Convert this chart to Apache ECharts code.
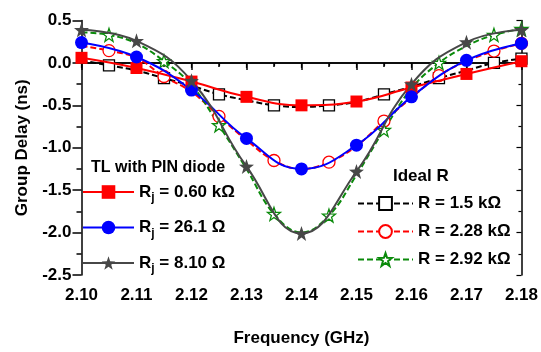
<!DOCTYPE html>
<html><head><meta charset="utf-8">
<script src="https://cdn.jsdelivr.net/npm/echarts@6/dist/echarts.min.js"></script>
<style>html,body{margin:0;padding:0;background:#fff}#c{width:541px;height:352px}</style>
</head><body><div id="c"></div>
<script>
// ---- data ----
const freqPin = [2.10, 2.11, 2.12, 2.13, 2.14, 2.15, 2.16, 2.17, 2.18];
const rj060k = [0.06, -0.06, -0.22, -0.40, -0.50, -0.455, -0.29, -0.13, 0.02];
const rj261 = [0.24, 0.07, -0.32, -0.89, -1.25, -0.97, -0.40, 0.03, 0.23];
const rj810 = [0.39, 0.26, -0.21, -1.22, -2.01, -1.28, -0.25, 0.245, 0.39];

const freqIdeal = [2.10, 2.105, 2.11, 2.115, 2.12, 2.125, 2.13, 2.135, 2.14, 2.145, 2.15, 2.155, 2.16, 2.165, 2.17, 2.175, 2.18];
const idealMarked = [0, 1, 0, 1, 0, 1, 0, 1, 0, 1, 0, 1, 0, 1, 0, 1, 1];
const r15k = [0.03, -0.03, -0.09, -0.18, -0.27, -0.37, -0.44, -0.50, -0.52, -0.50, -0.46, -0.37, -0.28, -0.18, -0.09, 0.00, 0.05];
const r228k = [0.20, 0.145, 0.06, -0.16, -0.34, -0.63, -0.91, -1.15, -1.25, -1.17, -0.98, -0.685, -0.41, -0.15, 0.02, 0.14, 0.23];
const r292k = [0.36, 0.33, 0.23, 0.02, -0.26, -0.735, -1.25, -1.78, -2.00, -1.80, -1.32, -0.79, -0.30, 0.00, 0.20, 0.33, 0.40];

const xTicks = {min: 2.10, max: 2.18, step: 0.01};
const yTicks = {min: -2.5, max: 0.5, step: 0.5};

const pinNames = ['{r|R}{s|j}{r| = 0.60 kΩ}', '{r|R}{s|j}{r| = 26.1 Ω}', '{r|R}{s|j}{r| = 8.10 Ω}'];
const idealNames = ['R = 1.5 kΩ', 'R = 2.28 kΩ', 'R = 2.92 kΩ'];

// ---- chart ----
const STAR = 'path://M0,-10 L2.35,-3.24 L9.51,-3.09 L3.8,1.24 L5.88,8.09 L0,4 L-5.88,8.09 L-3.8,1.24 L-9.51,-3.09 L-2.35,-3.24 Z';
const FONT = 'Liberation Sans, Arial, sans-serif';

function pairs(xs, ys) { return xs.map((x, i) => [x, ys[i]]); }
function idealPairs(xs, ys) {
  return xs.map((x, i) => idealMarked[i] ? [x, ys[i]] : {value: [x, ys[i]], symbol: 'none'});
}

const pinStyles = [
  {color: '#ff0000', symbol: 'rect', size: 12},
  {color: '#0000ff', symbol: 'circle', size: 13},
  {color: '#474747', symbol: STAR, size: 15}
];
const idealStyles = [
  {color: '#000000', symbol: 'rect', size: 11},
  {color: '#ff0000', symbol: 'circle', size: 12},
  {color: '#0a8a0a', symbol: STAR, size: 13}
];
const pinData = [rj060k, rj261, rj810];
const idealData = [r15k, r228k, r292k];

const series = [];
idealData.forEach((d, i) => {
  const st = idealStyles[i];
  series.push({
    name: idealNames[i], type: 'line', smooth: 0.4, data: idealPairs(freqIdeal, d),
    symbol: st.symbol, symbolSize: st.size, showAllSymbol: true,
    lineStyle: {color: st.color, width: 2, type: [6, 3]},
    itemStyle: {color: '#ffffff', borderColor: st.color, borderWidth: 1.3},
    z: 2
  });
});
pinData.forEach((d, i) => {
  const st = pinStyles[i];
  series.push({
    name: pinNames[i], type: 'line', smooth: 0.45, data: pairs(freqPin, d),
    symbol: st.symbol, symbolSize: st.size, showAllSymbol: true,
    lineStyle: {color: st.color, width: 2},
    itemStyle: {color: st.color, borderColor: st.color, borderWidth: 0},
    z: 3
  });
});

const axisLine = {show: true, lineStyle: {color: '#000', width: 1.5}};
const chart = echarts.init(document.getElementById('c'), null, {renderer: 'canvas'});
chart.setOption({
  animation: false,
  backgroundColor: '#fff',
  grid: {left: 81.5, right: 18.7, top: 20.5, bottom: 73.7, containLabel: false},
  title: [
    {text: 'TL with PIN diode', left: 86, top: 155, textStyle: {fontFamily: FONT, fontSize: 16, fontWeight: 'bold', color: '#000'}},
    {text: 'Ideal R', left: 388, top: 163, textStyle: {fontFamily: FONT, fontSize: 17, fontWeight: 'bold', color: '#000'}}
  ],
  legend: [
    {
      data: pinNames, orient: 'vertical', left: 82, top: 183.5, padding: 0, itemWidth: 51, itemHeight: 17, itemGap: 15,
      selectedMode: false,
      textStyle: {fontFamily: FONT, color: '#000', rich: {
        r: {fontSize: 17, fontWeight: 'bold', fontFamily: FONT},
        s: {fontSize: 12, fontWeight: 'bold', fontFamily: FONT, padding: [12, 0, 0, 0]}
      }}
    },
    {
      data: idealNames, orient: 'vertical', left: 357, top: 195, padding: 0, itemWidth: 55, itemHeight: 16, itemGap: 11,
      selectedMode: false,
      textStyle: {fontFamily: FONT, fontSize: 17, fontWeight: 'bold', color: '#000'}
    }
  ],
  xAxis: [
    {
      type: 'value', min: xTicks.min, max: xTicks.max, interval: xTicks.step,
      name: 'Frequency (GHz)', nameLocation: 'middle', nameGap: 55,
      nameTextStyle: {fontFamily: FONT, fontSize: 17, fontWeight: 'bold', color: '#000'},
      axisLine: axisLine,
      axisTick: {show: true, inside: false, length: 7, lineStyle: {color: '#000', width: 1.5}},
      minorTick: {show: true, splitNumber: 2, length: 4, lineStyle: {color: '#000', width: 1.5}},
      splitLine: {show: false},
      axisLabel: {margin: 12, fontFamily: FONT, fontSize: 17, fontWeight: 'bold', color: '#000',
        formatter: v => v.toFixed(2)}
    },
    {
      type: 'value', position: 'top', min: xTicks.min, max: xTicks.max, interval: xTicks.step,
      axisLine: axisLine,
      axisTick: {show: true, inside: true, length: 5, lineStyle: {color: '#000', width: 1.2}},
      minorTick: {show: true, splitNumber: 2, length: 3, lineStyle: {color: '#000', width: 1.2}},
      splitLine: {show: false}, axisLabel: {show: false}
    }
  ],
  yAxis: [
    {
      type: 'value', min: yTicks.min, max: yTicks.max, interval: yTicks.step,
      name: 'Group Delay (ns)', nameLocation: 'middle', nameGap: 50,
      nameTextStyle: {fontFamily: FONT, fontSize: 17, fontWeight: 'bold', color: '#000'},
      axisLine: axisLine,
      axisTick: {show: true, inside: false, length: 9, lineStyle: {color: '#000', width: 1.5}},
      minorTick: {show: true, splitNumber: 2, length: 5, lineStyle: {color: '#000', width: 1.5}},
      splitLine: {show: false},
      axisLabel: {margin: 10, fontFamily: FONT, fontSize: 17, fontWeight: 'bold', color: '#000',
        formatter: v => v.toFixed(1)}
    },
    {
      type: 'value', position: 'right', min: yTicks.min, max: yTicks.max, interval: yTicks.step,
      axisLine: axisLine,
      axisTick: {show: true, inside: true, length: 5, lineStyle: {color: '#000', width: 1.2}},
      minorTick: {show: true, splitNumber: 2, length: 3, lineStyle: {color: '#000', width: 1.2}},
      splitLine: {show: false}, axisLabel: {show: false}
    }
  ],
  series: series
});
</script>
</body></html>
